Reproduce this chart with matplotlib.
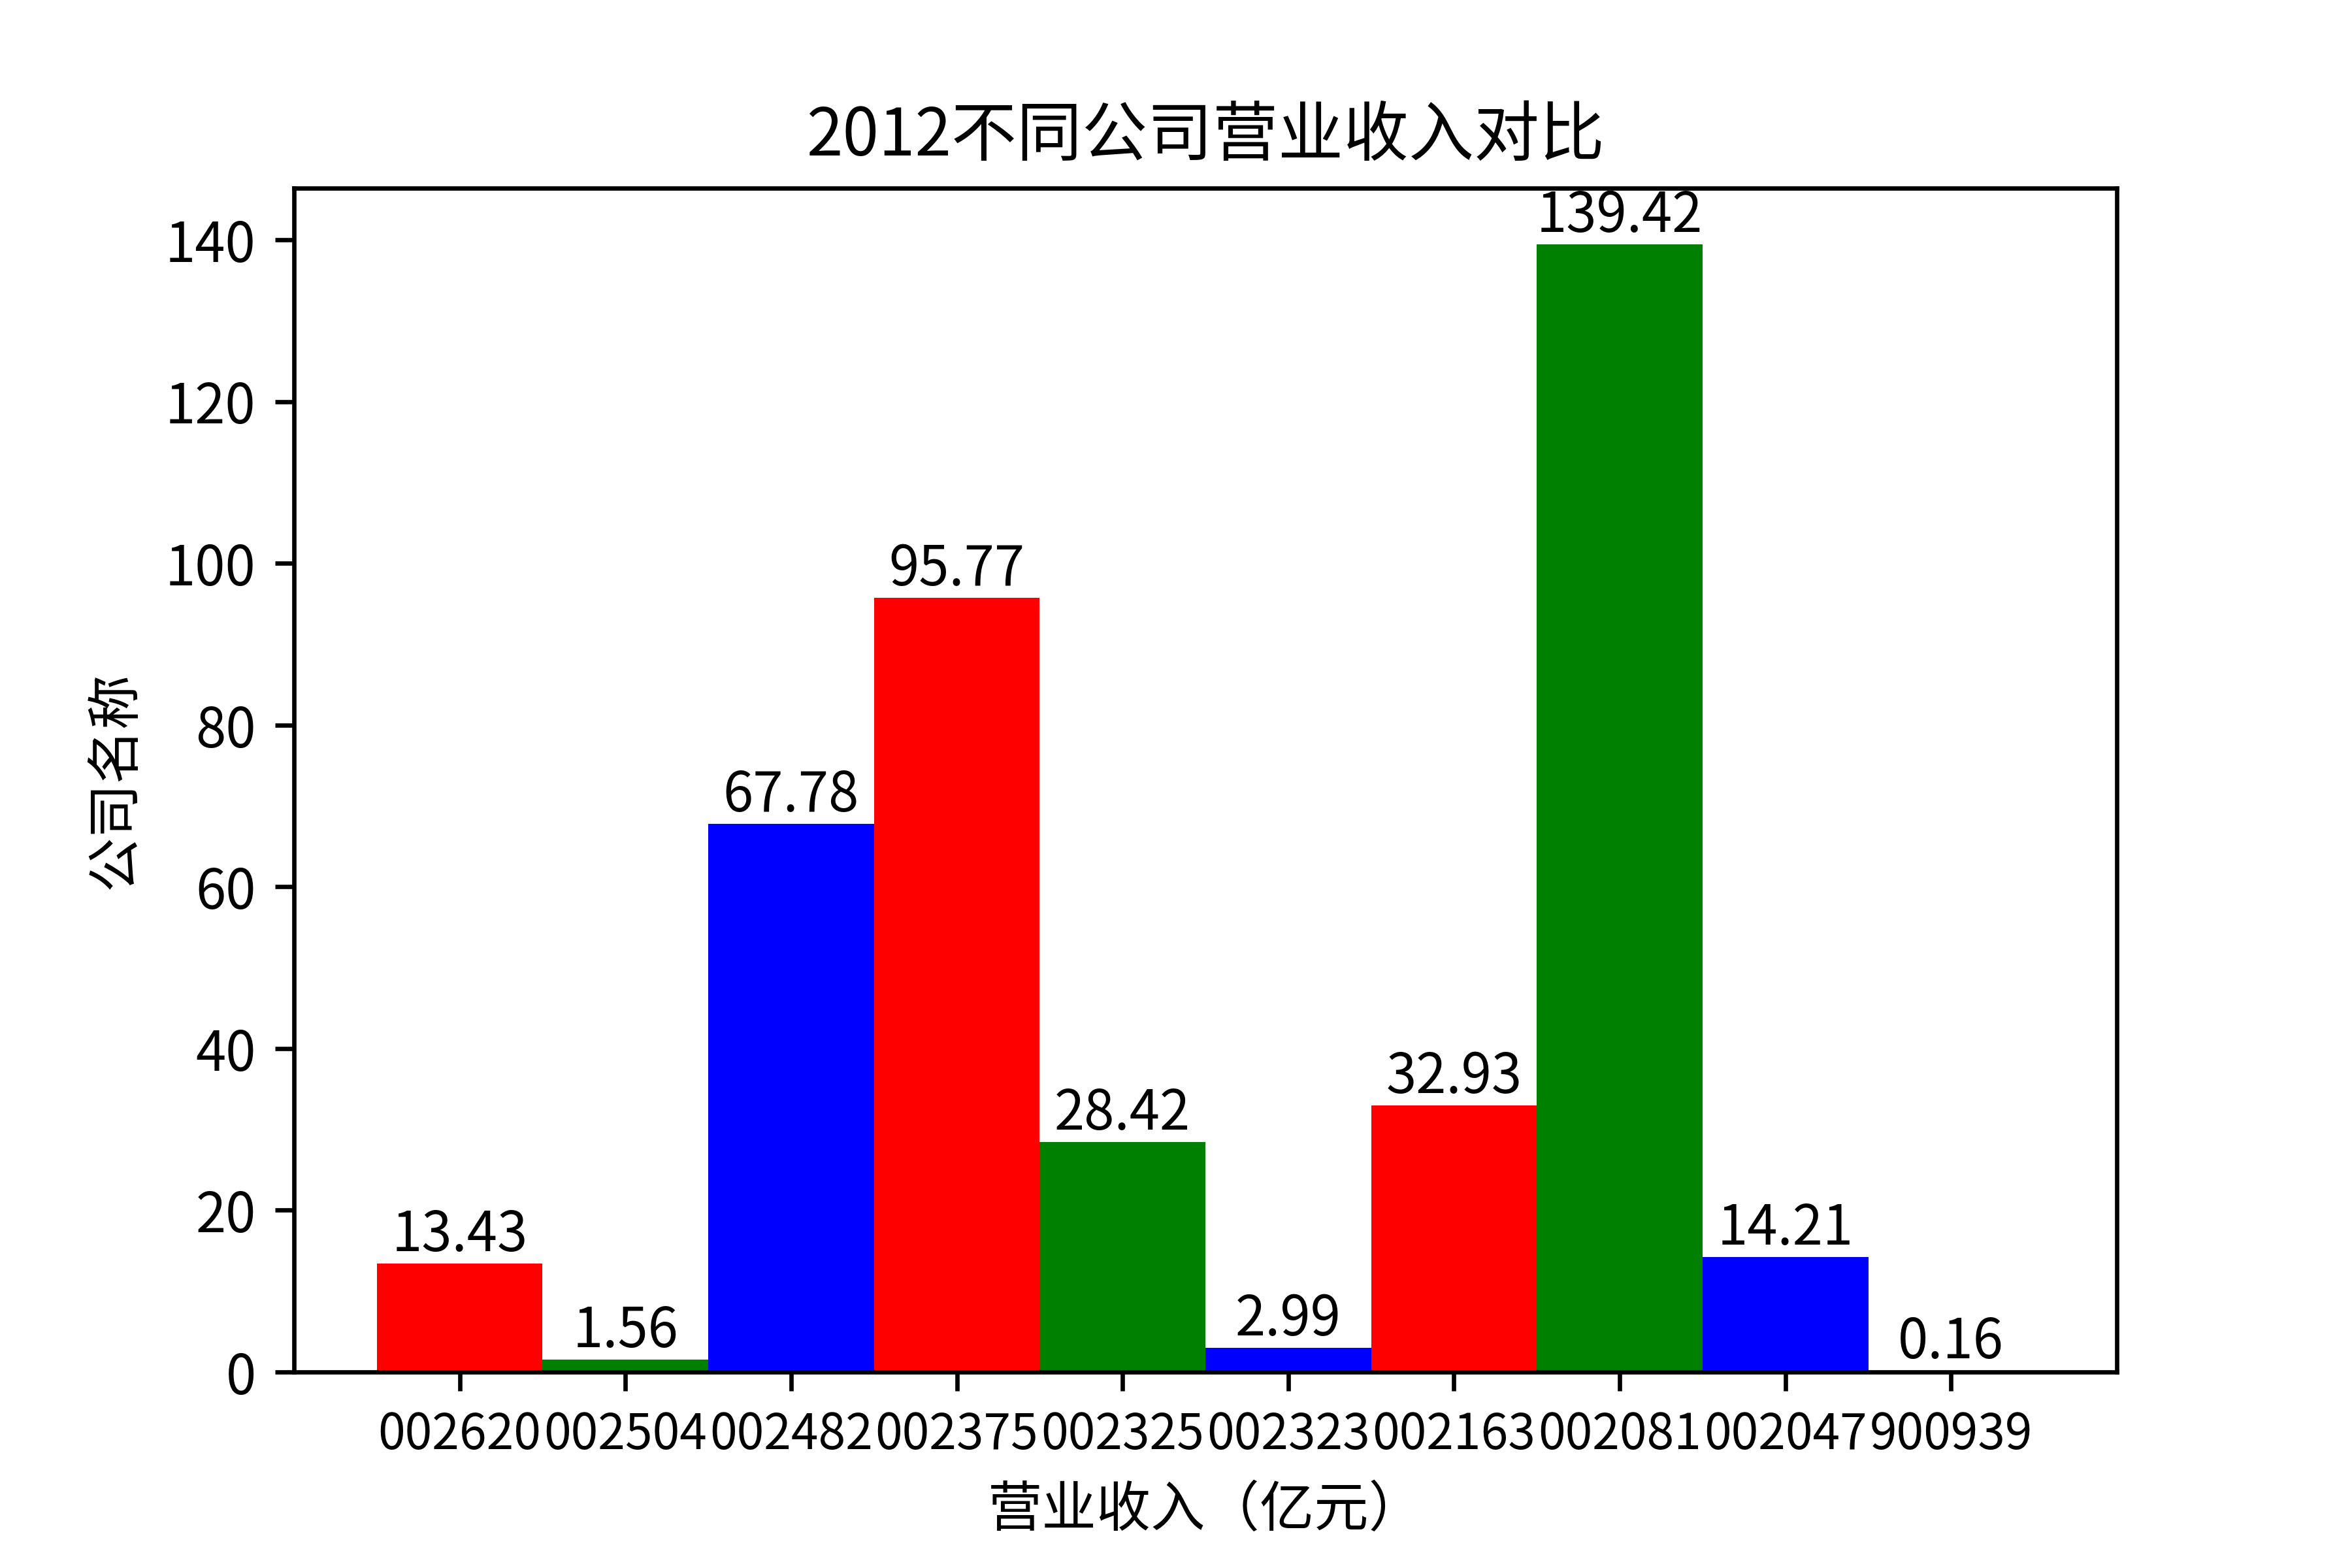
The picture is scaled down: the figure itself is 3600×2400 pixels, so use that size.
import matplotlib
matplotlib.use("Agg")
import matplotlib.pyplot as plt

plt.rcParams['font.family'] = ['Noto Sans CJK SC', 'DejaVu Sans']
plt.rcParams['axes.unicode_minus'] = False

# company codes and 2012 revenue (100 million yuan)
codes = ['002620', '002504', '002482', '002375', '002325',
         '002323', '002163', '002081', '002047', '900939']
revenue = [13.43, 1.56, 67.78, 95.77, 28.42, 2.99, 32.93, 139.42, 14.21, 0.16]
colors = ['red', 'green', 'blue']

fig, ax = plt.subplots(figsize=(6, 4), dpi=600)
fig.subplots_adjust(bottom=0.125)

x = range(len(codes))
bars = ax.bar(x, revenue, width=1.0,
              color=[colors[i % 3] for i in x])
for b, v in zip(bars, revenue):
    ax.text(b.get_x() + b.get_width() / 2, b.get_height(), '%.2f' % v,
            ha='center', va='bottom', fontsize=10)

ax.set_xticks(list(x))
# slightly smaller so the six-digit codes don't run into each other
ax.set_xticklabels(codes, fontsize=9)
ax.set_title('2012不同公司营业收入对比', fontsize=12)
ax.set_xlabel('营业收入（亿元）')
ax.set_ylabel('公司名称')

fig.savefig('out.png', dpi=600)
